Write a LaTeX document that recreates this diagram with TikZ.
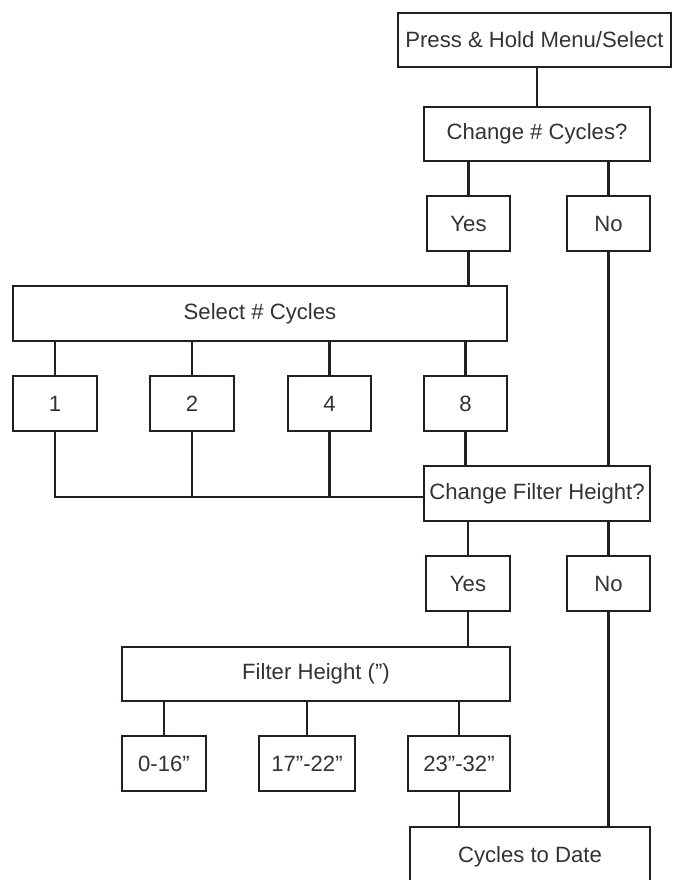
\documentclass[tikz,border=0pt]{standalone}
\usepackage{fontspec}
\setmainfont{Liberation Sans}
\definecolor{ink}{HTML}{231F20}
\definecolor{txt}{HTML}{333333}
\begin{document}
\begin{tikzpicture}[x=0.75pt,y=-0.75pt,
  box/.style={draw=ink, line width=1.8pt, rectangle, inner sep=0pt, text=txt,
    font=\fontsize{16.6pt}{19pt}\selectfont},
  link/.style={draw=ink, line width=1.8pt}]
\useasboundingbox (0,0) rectangle (673,880);
\clip (0,0) rectangle (673,880);
\fill[white] (0,0) rectangle (673,880);
% nodes
\node[box, minimum width=273*0.75pt, minimum height=54*0.75pt] (press) at (534.5,40) {Press \& Hold Menu/Select};
\node[box, minimum width=226*0.75pt, minimum height=54*0.75pt] (cyc) at (537,134) {Change \# Cycles?};
\node[box, minimum width=83*0.75pt, minimum height=55*0.75pt] (yes1) at (468.5,223.5) {Yes};
\node[box, minimum width=83*0.75pt, minimum height=55*0.75pt] (no1) at (608.5,223.5) {No};
\node[box, minimum width=494*0.75pt, minimum height=55*0.75pt] (sel) at (260,313.5) {Select \# Cycles};
\node[box, minimum width=84*0.75pt, minimum height=55*0.75pt] (n1) at (55,403.5) {1};
\node[box, minimum width=84*0.75pt, minimum height=55*0.75pt] (n2) at (192,403.5) {2};
\node[box, minimum width=83*0.75pt, minimum height=55*0.75pt] (n4) at (329.5,403.5) {4};
\node[box, minimum width=83*0.75pt, minimum height=55*0.75pt] (n8) at (465.5,403.5) {8};
\node[box, minimum width=226*0.75pt, minimum height=55*0.75pt] (cfh) at (537,493.5) {Change Filter Height?};
\node[box, minimum width=84*0.75pt, minimum height=55*0.75pt] (yes2) at (468,583.5) {Yes};
\node[box, minimum width=83*0.75pt, minimum height=55*0.75pt] (no2) at (608.5,583.5) {No};
\node[box, minimum width=388*0.75pt, minimum height=54*0.75pt] (filt) at (316,674) {Filter Height (”)};
\node[box, minimum width=84*0.75pt, minimum height=55*0.75pt] (c0) at (164,763.5) {0-16”};
\node[box, minimum width=96*0.75pt, minimum height=55*0.75pt] (c17) at (307,763.5) {17”-22”};
\node[box, minimum width=102*0.75pt, minimum height=55*0.75pt] (c23) at (459,763.5) {23”-32”};
\node[box, minimum width=240*0.75pt, minimum height=60*0.75pt] (ctd) at (530,857) {Cycles to Date};
\coordinate (j) at ([yshift=-3.5*0.75pt]cfh.west);
% connectors
\draw[link] (cyc.north) -- (cyc.north |- press.south);
\draw[link] (yes1.north) -- (yes1.north |- cyc.south);
\draw[link] (no1.north) -- (no1.north |- cyc.south);
\draw[link] (yes1.south) -- (yes1.south |- sel.north);
\draw[link] (no1.south) -- (no1.south |- cfh.north);
\draw[link] (n1.north) -- (n1.north |- sel.south);
\draw[link] (n2.north) -- (n2.north |- sel.south);
\draw[link] (n4.north) -- (n4.north |- sel.south);
\draw[link] (n8.north) -- (n8.north |- sel.south);
\draw[link] (n1.south) |- (j);
\draw[link] (n2.south) -- (n2.south |- j);
\draw[link] (n4.south) -- (n4.south |- j);
\draw[link] (n8.south) -- (n8.south |- cfh.north);
\draw[link] (yes2.north) -- (yes2.north |- cfh.south);
\draw[link] (no2.north) -- (no2.north |- cfh.south);
\draw[link] (yes2.south) -- (yes2.south |- filt.north);
\draw[link] (c0.north) -- (c0.north |- filt.south);
\draw[link] (c17.north) -- (c17.north |- filt.south);
\draw[link] (c23.north) -- (c23.north |- filt.south);
\draw[link] (c23.south) -- (c23.south |- ctd.north);
\draw[link] (no2.south) -- (no2.south |- ctd.north);
\end{tikzpicture}
\end{document}
